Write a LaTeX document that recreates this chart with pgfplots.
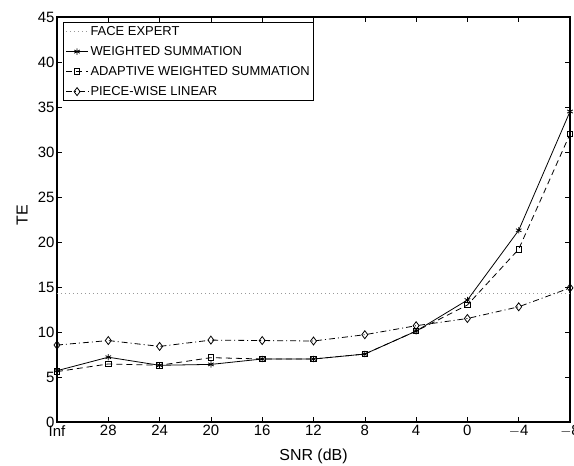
\documentclass[border=0pt]{standalone}
\usepackage{pgfplots}
\pgfplotsset{compat=1.18}
\usepackage{fontspec}
\setmainfont{Liberation Sans}
\begin{document}
\begin{tikzpicture}
\begin{axis}[
  scale only axis,
  width=513bp, height=405bp,
  xmin=0, xmax=10, ymin=0, ymax=45,
  xtick={0,1,...,10},
  xticklabels={Inf,28,24,20,16,12,8,4,0,$-$4,$-$8},
  ytick={0,5,...,45},
  tick align=inside,
  major tick length=5bp,
  axis line style={line width=1.2pt},
  every tick/.style={black, line width=0.6pt},
  /pgf/number format/assume math mode=true,
  tick label style={font=\fontsize{15}{17}\selectfont},
  yticklabel style={xshift=1bp},
  label style={font=\fontsize{16}{18}\selectfont},
  xlabel={SNR (dB)},
  ylabel={TE},
  xlabel style={at={(axis description cs:0.5,-0.084)}, anchor=center},
  ylabel style={at={(axis description cs:-0.068,0.51)}, anchor=center},
  legend style={at={(axis description cs:0.012,0.988)}, anchor=north west, draw=black, line width=0.9pt,
    font=\fontsize{13}{15}\selectfont, row sep=5.5bp, inner sep=2bp, cells={anchor=west}},
  legend cell align=left,
  legend image code/.code={\draw[mark repeat=2,mark phase=2] plot coordinates {(0cm,0cm)(0.39cm,0cm)(0.78cm,0cm)};},
]
\addplot[gray!80, dash pattern=on 1bp off 3bp, line width=0.8pt] coordinates {(0,14.3)(10,14.3)};
\addlegendentry{FACE EXPERT}
\addplot[black, solid, line width=0.8pt, mark=asterisk, mark size=3.2pt, mark options={solid}] coordinates {
(0,5.7)(1,7.2)(2,6.3)(3,6.4)(4,7.0)(5,7.0)(6,7.55)(7,10.1)(8,13.55)(9,21.3)(10,34.5)};
\addlegendentry{WEIGHTED SUMMATION}
\addplot[black, dash pattern=on 6bp off 4bp, line width=0.8pt, mark=square, mark size=2.8pt, mark options={solid}] coordinates {
(0,5.6)(1,6.45)(2,6.3)(3,7.15)(4,7.0)(5,7.0)(6,7.55)(7,10.1)(8,13.0)(9,19.2)(10,32.0)};
\addlegendentry{ADAPTIVE WEIGHTED SUMMATION}
\addplot[black, dash pattern=on 6bp off 3bp on 1bp off 3bp, line width=0.8pt, mark=diamond, mark size=4pt, mark options={solid}] coordinates {
(0,8.55)(1,9.05)(2,8.4)(3,9.1)(4,9.05)(5,9.0)(6,9.7)(7,10.7)(8,11.5)(9,12.8)(10,14.9)};
\addlegendentry{PIECE-WISE LINEAR}
\end{axis}
\pgfresetboundingbox
\useasboundingbox ([xshift=-57bp,yshift=-44bp]current axis.south west) rectangle ([xshift=4bp,yshift=17bp]current axis.north east);
\end{tikzpicture}
\end{document}
